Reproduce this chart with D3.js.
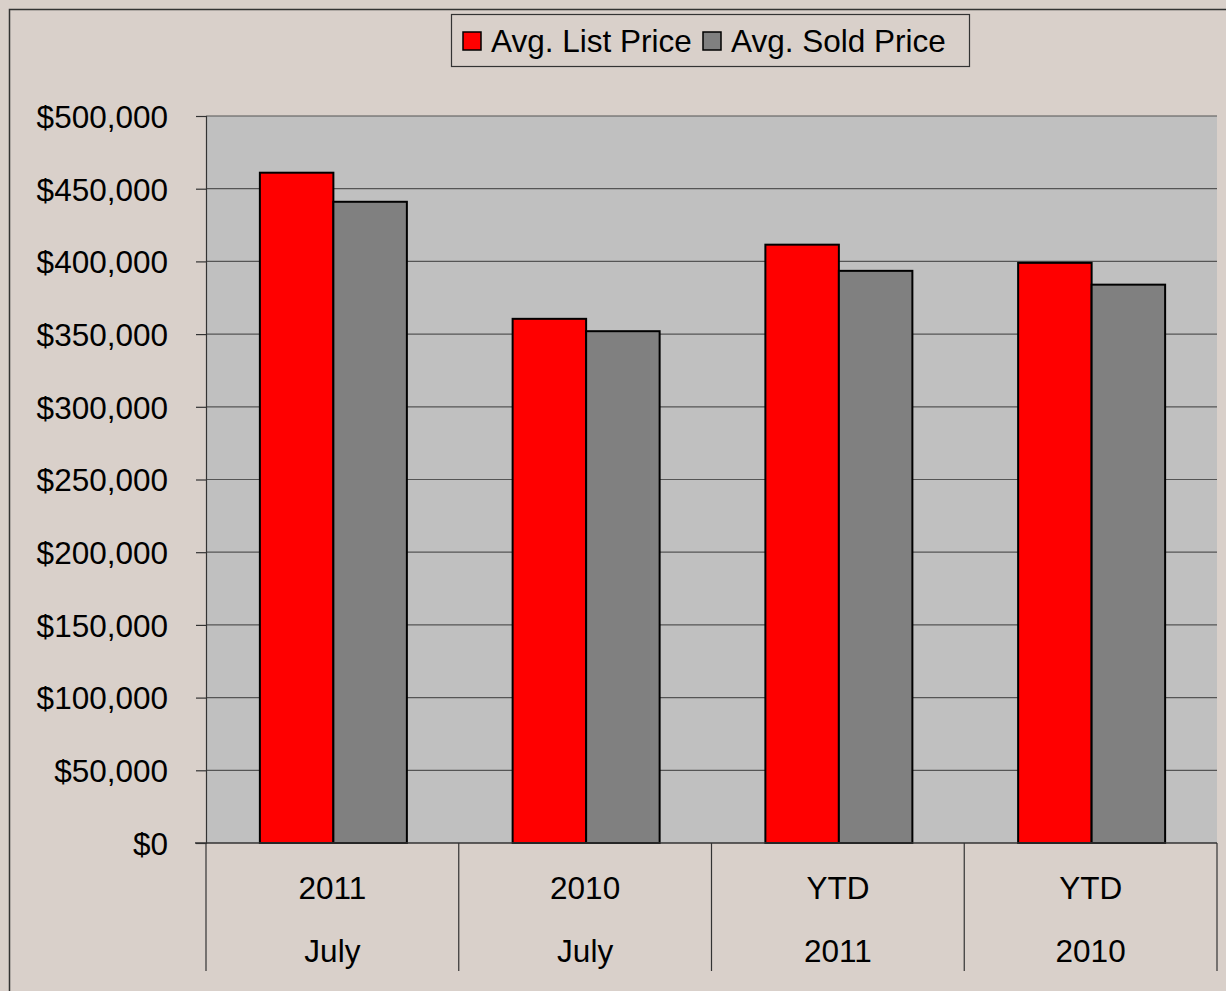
<!DOCTYPE html>
<html lang="en">
<head>
<meta charset="UTF-8">
<script src="https://d3js.org/d3.v7.min.js"></script>
<style>
  body { margin: 0; background: #fff; }
  svg { display: block; font-family: "Liberation Sans", Arial, sans-serif; }
</style>
</head>
<body>
<div id="chart"></div>
<script>
// Data
const topLabels = ["2011", "2010", "YTD", "YTD"];
const bottomLabels = ["July", "July", "2011", "2010"];
const seriesNames = ["Avg. List Price", "Avg. Sold Price"];
const listPrice = [461000, 360500, 411500, 399000];
const soldPrice = [441000, 352000, 393500, 384000];
const yTicks = [0, 50000, 100000, 150000, 200000, 250000, 300000, 350000, 400000, 450000, 500000];

const width = 1226, height = 991;
const margin = { left: 206, right: 9, top: 116, bottom: 148 };
const colors = ["#ff0000", "#808080"];

const svg = d3.select("#chart").append("svg")
    .attr("width", width)
    .attr("height", height);

// Background with outer frame
svg.append("rect")
    .attr("width", width).attr("height", height)
    .attr("fill", "#d9d0ca");
svg.append("rect")
    .attr("x", 9.5).attr("y", 9.5)
    .attr("width", width + 20).attr("height", height + 20)
    .attr("fill", "none")
    .attr("stroke", "#333").attr("stroke-width", 1.5);

const plotW = width - margin.left - margin.right;
const plotH = height - margin.top - margin.bottom;
const cats = d3.range(topLabels.length);

const x = d3.scaleBand().domain(cats).range([margin.left, margin.left + plotW]).paddingInner(0).paddingOuter(0);
const x1 = d3.scaleBand().domain([0, 1]).range([0, 147]);
const y = d3.scaleLinear().domain([0, 500000]).range([margin.top + plotH, margin.top]);

// Plot area
svg.append("rect")
    .attr("x", margin.left).attr("y", margin.top)
    .attr("width", plotW).attr("height", plotH)
    .attr("fill", "#c0c0c0");

// Gridlines
svg.append("g")
    .selectAll("line")
    .data(yTicks.filter(d => d > 0))
    .join("line")
    .attr("x1", margin.left).attr("x2", margin.left + plotW)
    .attr("y1", d => y(d)).attr("y2", d => y(d))
    .attr("stroke", "#555").attr("stroke-width", 1.2);

// Y axis
const yAxis = d3.axisLeft(y)
    .tickValues(yTicks)
    .tickSize(10)
    .tickPadding(28)
    .tickFormat(d => "$" + d3.format(",")(d));
const gy = svg.append("g")
    .attr("transform", `translate(${margin.left},0)`)
    .call(yAxis);
gy.select(".domain").attr("stroke", "#333").attr("stroke-width", 1.2);
gy.selectAll(".tick line").attr("stroke", "#333").attr("stroke-width", 1.2);
gy.selectAll(".tick text")
    .attr("font-size", 31.5)
    .attr("font-family", "Liberation Sans, Arial, sans-serif")
    .attr("fill", "#000")
    .attr("dy", "0.36em");

// Bars
const groups = svg.append("g")
    .selectAll("g")
    .data(cats)
    .join("g")
    .attr("transform", d => `translate(${x(d) + (x.bandwidth() - 147) / 2 + 1},0)`);

groups.selectAll("rect")
    .data(d => [listPrice[d], soldPrice[d]])
    .join("rect")
    .attr("x", (d, i) => x1(i))
    .attr("y", d => y(d))
    .attr("width", x1.bandwidth())
    .attr("height", d => y(0) - y(d))
    .attr("fill", (d, i) => colors[i])
    .attr("stroke", "#000")
    .attr("stroke-width", 2);

// X axis line and category separators
const baseY = y(0);
svg.append("line")
    .attr("x1", margin.left - 11).attr("x2", margin.left + plotW)
    .attr("y1", baseY).attr("y2", baseY)
    .attr("stroke", "#333").attr("stroke-width", 1.5);

const seps = cats.map(d => x(d)).concat([margin.left + plotW]);
svg.append("g")
    .selectAll("line")
    .data(seps)
    .join("line")
    .attr("x1", d => d).attr("x2", d => d)
    .attr("y1", baseY).attr("y2", baseY + 128)
    .attr("stroke", "#333").attr("stroke-width", 1.2);

svg.append("g")
    .selectAll("text")
    .data(cats)
    .join("text")
    .attr("x", d => x(d) + x.bandwidth() / 2)
    .attr("y", 899)
    .attr("text-anchor", "middle")
    .attr("font-size", 31.5)
    .text(d => topLabels[d]);

svg.append("g")
    .selectAll("text")
    .data(cats)
    .join("text")
    .attr("x", d => x(d) + x.bandwidth() / 2)
    .attr("y", 962)
    .attr("text-anchor", "middle")
    .attr("font-size", 31.5)
    .text(d => bottomLabels[d]);

// Legend
const legend = svg.append("g");
legend.append("rect")
    .attr("x", 451.5).attr("y", 14.5)
    .attr("width", 518).attr("height", 52)
    .attr("fill", "#d9d0ca")
    .attr("stroke", "#333").attr("stroke-width", 1.2);

const legendX = [463, 703];
const items = legend.selectAll("g.item")
    .data(seriesNames)
    .join("g")
    .attr("class", "item")
    .attr("transform", (d, i) => `translate(${legendX[i]},0)`);
items.append("rect")
    .attr("x", 0).attr("y", 32)
    .attr("width", 18).attr("height", 18)
    .attr("fill", (d, i) => colors[i])
    .attr("stroke", "#000").attr("stroke-width", 1.5);
items.append("text")
    .attr("x", 28).attr("y", 52)
    .attr("font-size", 31.5)
    .text(d => d);
</script>
</body>
</html>
